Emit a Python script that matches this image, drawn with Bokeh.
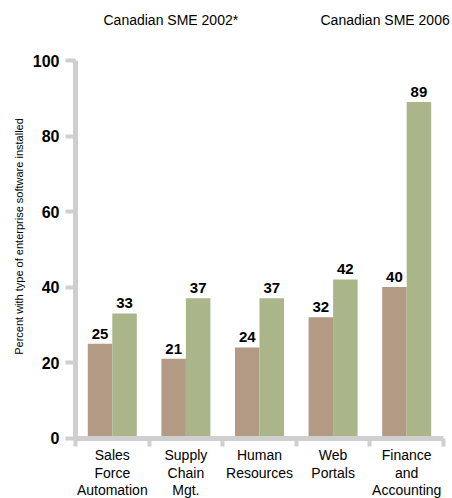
import math

from bokeh.core.properties import value
from bokeh.embed import file_html
from bokeh.models import ColumnDataSource, FixedTicker, Label, Range1d
from bokeh.plotting import figure
from bokeh.resources import INLINE

# Enterprise software adoption by Canadian SMEs
categories = ["Sales\nForce\nAutomation", "Supply\nChain\nMgt.", "Human\nResources",
              "Web\nPortals", "Finance\nand\nAccounting"]
sme_2002 = [25, 21, 24, 32, 40]
sme_2006 = [33, 37, 37, 42, 89]
series_names = ["Canadian SME 2002*", "Canadian SME 2006"]
y_ticks = [0, 20, 40, 60, 80, 100]
y_title = "Percent with type of enterprise software installed"

FONT = "Liberation Sans"
BROWN = "#B39A84"
GREEN = "#ABB58A"
AXIS_GRAY = "#CFCFCF"
BAR_W = 0.333

W, H = 452, 498
n = len(categories)
centers = [i + 0.5 for i in range(n)]

# The frame fills the whole canvas; axes are pinned at x=0 / y=0 so that
# titles and tick labels all live inside the drawing area.
X0_PX, CAT_PX = 75.0, 73.6          # left edge of the axes, width of one category
Y0_PX, UNIT_PX = 437.5, 3.775       # pixel row of y=0, pixels per percent
x_range = Range1d(-X0_PX / CAT_PX, (W - X0_PX) / CAT_PX)
y_range = Range1d(-(H - Y0_PX) / UNIT_PX, Y0_PX / UNIT_PX)

p = figure(width=W, height=H, output_backend="svg", toolbar_location=None,
           x_range=x_range, y_range=y_range, min_border=0)
p.title.visible = False
p.outline_line_color = None
p.grid.visible = False
p.background_fill_color = "white"
p.border_fill_color = "white"

src_a = ColumnDataSource(dict(x=[c - BAR_W / 2 for c in centers], top=sme_2002,
                              label=[str(v) for v in sme_2002]))
src_b = ColumnDataSource(dict(x=[c + BAR_W / 2 for c in centers], top=sme_2006,
                              label=[str(v) for v in sme_2006]))

p.vbar(x="x", top="top", width=BAR_W, source=src_a, fill_color=BROWN, line_color=None)
p.vbar(x="x", top="top", width=BAR_W, source=src_b, fill_color=GREEN, line_color=None)

for src in (src_a, src_b):
    p.text(x="x", y="top", text="label", source=src, text_align="center",
           text_baseline="bottom", y_offset=-5, text_font=value(FONT),
           text_font_size="15px", text_font_style="bold", text_color="black")

# x axis: ticks on category boundaries, labels at category centres
xa = p.xaxis[0]
xa.fixed_location = 0
xa.bounds = (0, n)
xa.ticker = FixedTicker(ticks=centers, minor_ticks=list(range(n + 1)))
xa.major_label_overrides = {c: lab for c, lab in zip(centers, categories)}
xa.axis_line_color = AXIS_GRAY
xa.axis_line_width = 5
xa.major_tick_line_color = None
xa.major_tick_out = 8
xa.major_tick_in = 0
xa.minor_tick_line_color = AXIS_GRAY
xa.minor_tick_line_width = 4
xa.minor_tick_out = 8
xa.minor_tick_in = 0
xa.major_label_standoff = 1
xa.major_label_text_font = FONT
xa.major_label_text_font_size = "14px"
xa.major_label_text_color = "black"
xa.major_label_text_line_height = 1.1

ya = p.yaxis[0]
ya.fixed_location = 0
ya.bounds = (0, 100)
ya.ticker = FixedTicker(ticks=y_ticks, minor_ticks=[])
ya.axis_line_color = AXIS_GRAY
ya.axis_line_width = 5
ya.major_tick_line_color = AXIS_GRAY
ya.major_tick_line_width = 4
ya.major_tick_out = 10
ya.major_tick_in = 0
ya.minor_tick_line_color = None
ya.major_label_standoff = 6
ya.major_label_text_font = FONT
ya.major_label_text_font_size = "16px"
ya.major_label_text_font_style = "bold"
ya.major_label_text_color = "black"

p.add_layout(Label(x=18, y=H - 236, x_units="screen", y_units="screen", text=y_title,
                   angle=math.pi / 2, text_align="center", text_baseline="middle",
                   text_font=FONT, text_font_size="11px", text_color="black"))

for name, xs in zip(series_names, (103, 320)):
    p.add_layout(Label(x=xs, y=H - 19.5, x_units="screen", y_units="screen", text=name,
                       text_align="left", text_baseline="middle",
                       text_font=FONT, text_font_size="14px", text_color="black"))

open("out.html", "w").write(file_html(p, INLINE))
